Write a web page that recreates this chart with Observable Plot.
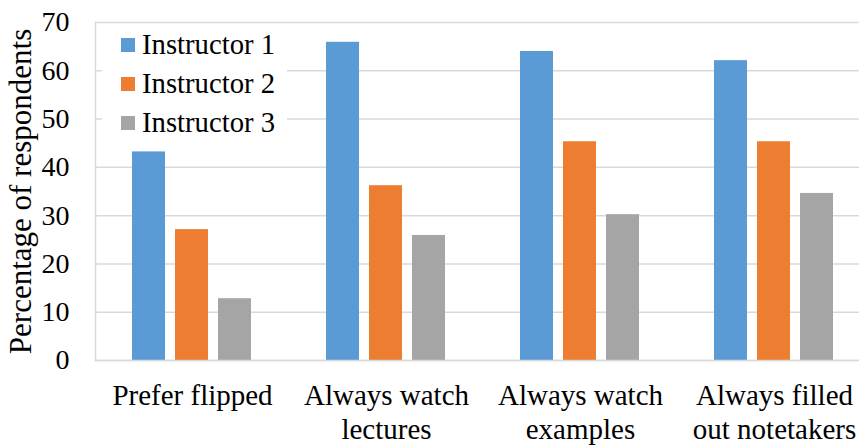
<!DOCTYPE html>
<html>
<head>
<meta charset="utf-8">
<script src="https://cdn.jsdelivr.net/npm/d3@7"></script>
<script src="https://cdn.jsdelivr.net/npm/@observablehq/plot@0.6"></script>
<style>
  html, body { margin: 0; padding: 0; background: #fff; }
  #wrap { position: relative; width: 859px; height: 445px; overflow: hidden; font-family: "Times New Roman", "Liberation Serif", "DejaVu Serif", serif; }
  #legend { position: absolute; left: 102px; top: 25px; width: 185px; background: #fff; padding: 0; }
  .row { display: flex; align-items: center; height: 39px; font-family: "Times New Roman", "Liberation Serif", "DejaVu Serif", serif; font-size: 28.7px; color: #000; }
  .sw { width: 14px; height: 14px; margin-left: 19px; margin-right: 7px; flex: none; }
</style>
</head>
<body>
<div id="wrap"></div>
<script>
const categories = ["Prefer flipped", "Always watch lectures", "Always watch examples", "Always filled out notetakers"];
const categoryLabels = ["Prefer flipped", "Always watch\nlectures", "Always watch\nexamples", "Always filled\nout notetakers"];
const instructors = ["Instructor 1", "Instructor 2", "Instructor 3"];
const instructor1 = [43.2, 65.9, 64.0, 62.1];
const instructor2 = [27.1, 36.2, 45.3, 45.3];
const instructor3 = [12.8, 25.9, 30.2, 34.6];
const colors = ["#5B9BD5", "#ED7D31", "#A5A5A5"];
const yTicks = [0, 10, 20, 30, 40, 50, 60, 70];

const series = [instructor1, instructor2, instructor3];
const data = [];
categories.forEach((c, i) => instructors.forEach((s, j) => data.push({category: c, instructor: s, value: series[j][i]})));
const labelOf = new Map(categories.map((c, i) => [c, categoryLabels[i]]));

const serif = "'Times New Roman', 'Liberation Serif', 'DejaVu Serif', serif";

const chart = Plot.plot({
  width: 859,
  height: 445,
  marginLeft: 94,
  marginRight: -12,
  marginTop: 22,
  marginBottom: 85,
  style: {fontFamily: serif, fontSize: "28px", color: "#000", background: "#fff"},
  fx: {domain: categories, padding: 0, label: null, axis: null},
  x: {domain: instructors, paddingInner: 0.222, paddingOuter: 0.835, axis: null},
  y: {domain: [0, 70], label: null, axis: null},
  color: {domain: instructors, range: colors},
  marks: [
    Plot.gridY(yTicks, {stroke: "#d9d9d9", strokeOpacity: 1, strokeWidth: 1.5}),
    Plot.frame({anchor: "left", facetAnchor: "left", stroke: "#d9d9d9", strokeWidth: 1.5}),
    Plot.barY(data, {fx: "category", x: "instructor", y: "value", fill: "instructor"}),
    Plot.ruleY([0], {stroke: "#d9d9d9", strokeWidth: 1.5}),
    Plot.axisY(yTicks, {tickSize: 0, tickPadding: 26, fontSize: 28, fontFamily: serif, label: null}),
    Plot.axisY([], {tickSize: 0, fontSize: 31, fontFamily: serif, label: "Percentage of respondents", labelAnchor: "center", labelArrow: "none", labelOffset: 87}),
    Plot.axisFx({anchor: "bottom", tickSize: 0, tickPadding: 20, fontSize: 29, fontFamily: serif, lineHeight: 1.18, tickFormat: (d) => labelOf.get(d), label: null})
  ]
});

const wrap = document.getElementById("wrap");
wrap.appendChild(chart);

const colorScale = chart.scale("color");
const legend = document.createElement("div");
legend.id = "legend";
colorScale.domain.forEach((name, i) => {
  const row = document.createElement("div");
  row.className = "row";
  const sw = document.createElement("span");
  sw.className = "sw";
  sw.style.background = colorScale.range[i];
  const t = document.createElement("span");
  t.textContent = name;
  row.appendChild(sw);
  row.appendChild(t);
  legend.appendChild(row);
});
wrap.appendChild(legend);
</script>
</body>
</html>
